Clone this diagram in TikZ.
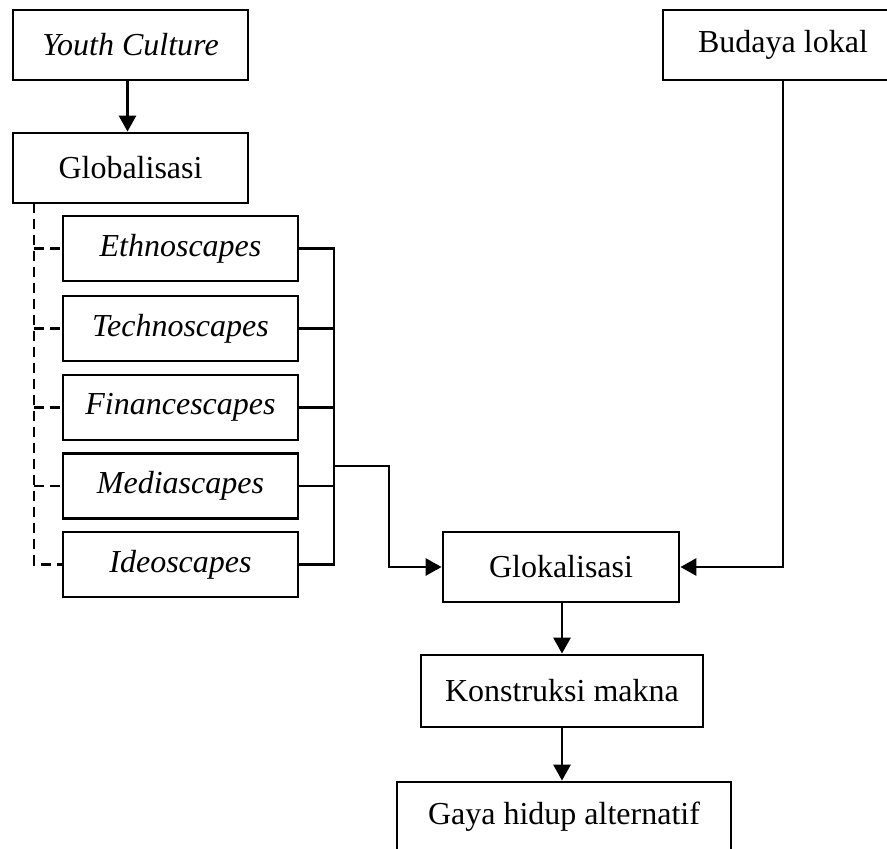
\documentclass[tikz,border=0pt]{standalone}
\usepackage{fontspec}
\setmainfont{Liberation Serif}
\usetikzlibrary{arrows.meta}
\begin{document}
\begin{tikzpicture}[x=1pt,y=-1pt,
  box/.style={draw, line width=2.8pt, rectangle, inner sep=0pt, minimum width=#1, align=center, font=\fontsize{32}{38}\selectfont},
  line/.style={line width=2.8pt},
  arr/.style={line width=2.8pt, -{Triangle[length=16pt,width=17pt]}},
  dline/.style={line width=2.4pt, dash pattern=on 10pt off 6pt}]
\clip (0,0) rectangle (887,849);
\fill[white] (0,0) rectangle (887,849);
\node[box=235pt, minimum height=70pt] (yc) at (130.5,45) {\itshape Youth Culture};
\node[box=235pt, minimum height=70pt] (glob) at (130.5,168) {Globalisasi};
\node[box=235pt, minimum height=65pt] (eth) at (180.5,248.5) {\itshape Ethnoscapes};
\node[box=235pt, minimum height=65pt] (tech) at (180.5,328.5) {\itshape Technoscapes};
\node[box=235pt, minimum height=65pt] (fin) at (180.5,407.5) {\itshape Financescapes};
\node[box=235pt, minimum height=65pt] (med) at (180.5,486) {\itshape Mediascapes};
\node[box=235pt, minimum height=65pt] (ideo) at (180.5,564.5) {\itshape Ideoscapes};
\node[box=240pt, minimum height=70pt] (bud) at (783,45) {Budaya lokal};
\node[box=236pt, minimum height=70pt] (glok) at (561,567) {Glokalisasi};
\node[box=282pt, minimum height=72pt] (kons) at (562,691) {Konstruksi makna};
\node[box=334pt, minimum height=70pt] (gaya) at (564,817) {Gaya hidup alternatif};
\coordinate (dtop) at (34,203);
\coordinate (bus) at (334,248.5);
\coordinate (br) at (334,466);
\coordinate (elbow) at (389,466);
% arrows
\draw[arr] ([xshift=-3pt]yc.south) -- ([xshift=-3pt]yc.south |- glob.north);
\draw[arr] ([xshift=1pt]glok.south) -- ([xshift=1pt]glok.south |- kons.north);
\draw[arr] (kons.south) -- (kons.south |- gaya.north);
\draw[arr] (bud.south) |- (glok.east);
\draw[arr] (br) -- (elbow) |- (glok.west);
% dashed tree
\draw[dline] (dtop) |- (ideo.west);
\foreach \n in {eth,tech,fin,med}{
  \draw[dline] (\n.west -| dtop) -- (\n.west);
}
% bus
\draw[line] (eth.east) -- (eth.east -| bus) -- (ideo.east -| bus) -- (ideo.east);
\foreach \n in {tech,fin,med}{
  \draw[line] (\n.east) -- (\n.east -| bus);
}
\end{tikzpicture}
\end{document}
